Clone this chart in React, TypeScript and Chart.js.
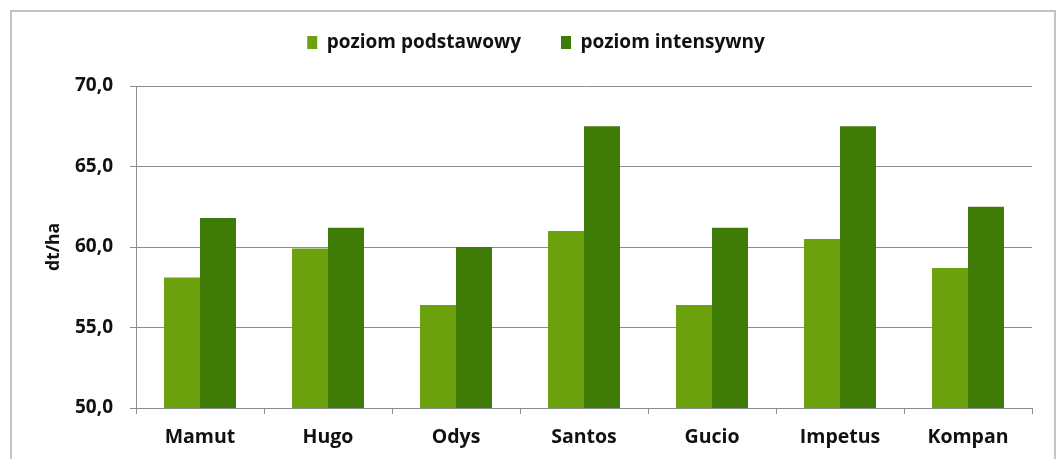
import React, { useEffect, useRef } from 'react';
import { Chart, registerables } from 'chart.js';

Chart.register(...registerables);

const categories = ['Mamut', 'Hugo', 'Odys', 'Santos', 'Gucio', 'Impetus', 'Kompan'];
const seriesNames = ['poziom podstawowy', 'poziom intensywny'];
const basicValues = [58.1, 59.9, 56.4, 61.0, 56.4, 60.5, 58.7];
const intensiveValues = [61.8, 61.2, 60.0, 67.5, 61.2, 67.5, 62.5];
const yMin = 50;
const yMax = 70;
const yStep = 5;
const yTitle = 'dt/ha';

const FONT = "'Open Sans', 'DejaVu Sans', sans-serif";

export default function App() {
  const ref = useRef<HTMLCanvasElement | null>(null);

  useEffect(() => {
    document.body.style.margin = '0';
    document.body.style.overflow = 'hidden';
    const canvas = ref.current;
    if (!canvas) return;

    const legendTweak = {
      id: 'legendTweak',
      beforeInit(chart: any) {
        const legend = chart.legend;
        if (legend) {
          const orig = legend.fit.bind(legend);
          legend.fit = function () {
            orig();
            this.height = 86;
          };
        }
      },
      afterLayout(chart: any) {
        const legend = chart.legend;
        if (legend) {
          legend.top = -7;
        }
      },
    };

    const chart = new Chart(canvas, {
      type: 'bar',
      data: {
        labels: categories,
        datasets: [
          {
            label: seriesNames[0],
            data: basicValues,
            backgroundColor: '#6aa10c',
            borderWidth: 0,
          },
          {
            label: seriesNames[1],
            data: intensiveValues,
            backgroundColor: '#3f7b07',
            borderWidth: 0,
          },
        ],
      },
      options: {
        responsive: false,
        animation: false,
        devicePixelRatio: 1,
        layout: { padding: { left: 40, right: 32, top: 0, bottom: 0 } },
        datasets: {
          bar: { categoryPercentage: 0.5625, barPercentage: 1 },
        },
        plugins: {
          tooltip: { enabled: false },
          legend: {
            display: true,
            position: 'top',
            labels: {
              boxWidth: 10,
              boxHeight: 13,
              padding: 40,
              color: '#111111',
              font: { family: FONT, size: 19, weight: 'bold' },
            },
          },
        },
        scales: {
          x: {
            type: 'category',
            offset: true,
            grid: {
              display: true,
              drawOnChartArea: false,
              drawTicks: true,
              tickLength: 6,
              offset: true,
              color: '#8c8c8c',
            },
            border: { display: true, color: '#8c8c8c', width: 1 },
            ticks: {
              padding: 12,
              color: '#111111',
              font: { family: FONT, size: 19.5, weight: 'bold' },
              maxRotation: 0,
            },
            afterFit(scale: any) {
              scale.height = 51;
            },
          },
          y: {
            min: yMin,
            max: yMax,
            grid: {
              color: '#8c8c8c',
              lineWidth: 1,
              drawTicks: true,
              tickLength: 6,
            },
            border: { display: true, color: '#8c8c8c', width: 1 },
            ticks: {
              stepSize: yStep,
              padding: 17,
              color: '#111111',
              font: { family: FONT, size: 19, weight: 'bold' },
              callback: (v: any) => Number(v).toFixed(1).replace('.', ','),
            },
            title: {
              display: true,
              text: yTitle,
              color: '#111111',
              font: { family: FONT, size: 17.5, weight: 'bold' },
              padding: { top: 4, bottom: 4 },
            },
            afterFit(scale: any) {
              scale.width = 96;
            },
          },
        },
      },
      plugins: [legendTweak],
    } as any);

    return () => {
      chart.destroy();
    };
  }, []);

  return (
    <div style={{ position: 'relative', width: 1064, height: 459, overflow: 'hidden', background: '#fff' }}>
      <div
        style={{
          position: 'absolute',
          left: 10,
          top: 10,
          width: 1046,
          height: 470,
          border: '2px solid #c4c4c4',
          boxSizing: 'border-box',
        }}
      />
      <canvas ref={ref} width={1064} height={459} style={{ position: 'absolute', left: 0, top: 0 }} />
    </div>
  );
}
